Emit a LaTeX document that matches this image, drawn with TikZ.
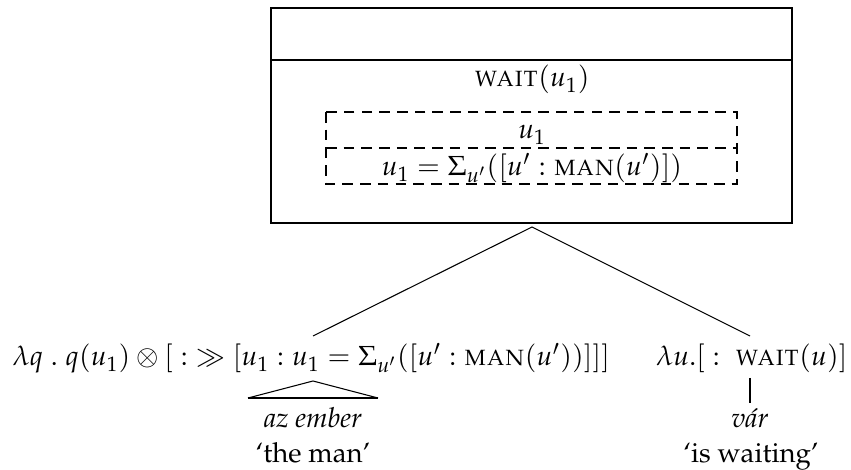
\documentclass[tikz,border=0pt]{standalone}
\usepackage[T1]{fontenc}
\usepackage{mathpazo}
\usepackage{amsmath,amssymb}
\usetikzlibrary{positioning}
\tikzset{
    drsline/.style={line width=1.1pt},
    subdrs/.style={line width=1.1pt,dash pattern=on 4.5pt off 3pt},
    branch/.style={line width=0.45pt},
    stem/.style={line width=1pt},
    formula/.style={inner sep=0pt,anchor=base},
    gloss/.style={inner sep=0pt,anchor=base}
}

\begin{document}
\begin{tikzpicture}[x=0.424pt,y=-0.424pt,font=\fontsize{11.7}{14}\selectfont]
  \useasboundingbox (0,0) rectangle (851,470);
  % main box
  \draw[drsline] (271,8) rectangle (792,223);
  \draw[drsline] (271,60) -- (792,60);
  \node[formula] (wait) at (532,87) {$\textsc{wait}(u_1)$};
  % embedded box
  \draw[subdrs] (326,112) rectangle (737,184);
  \draw[subdrs] (326,148) -- (737,148);
  \node[formula] (refu) at (532,139) {$u_1$};
  \node[formula] (cond) at (532,176) {$u_1 = \Sigma_{u'}([u' : \textsc{man}(u')])$};
  % daughters
  \node[formula,anchor=base west] (np) at (12,366)
    {$\lambda q\;.\;q(u_1)\otimes[\;{:}\gg[u_1 : u_1 = \Sigma_{u'}([u' : \textsc{man}(u'))]]]$};
  \node[formula,anchor=base east] (vp) at (848,366)
    {$\lambda u.[\;{:}\;\;\textsc{wait}(u)]$};
  \node[gloss] (az) at (313,428) {\textit{az ember}};
  \node[gloss] (man) at (313,462) {`the man'};
  \node[gloss] (var) at (750,428) {\textit{v\'ar}};
  \node[gloss] (waiting) at (751,462) {`is waiting'};
  % tree
  \coordinate (root) at (532,227);
  \coordinate (npin) at (313,336);
  \coordinate (vpin) at (750,336);
  \draw[branch] (npin) -- (root) -- (vpin);
  \coordinate (tritop) at (313,381);
  \coordinate (trileft) at (248,398);
  \coordinate (triright) at (378,398);
  \draw[branch] (trileft) -- (tritop) -- (triright);
  \draw[stem] (trileft) -- (triright);
  \coordinate (stemtop) at (750,378);
  \coordinate (stembot) at (750,403);
  \draw[stem] (stemtop) -- (stembot);
\end{tikzpicture}
\end{document}
